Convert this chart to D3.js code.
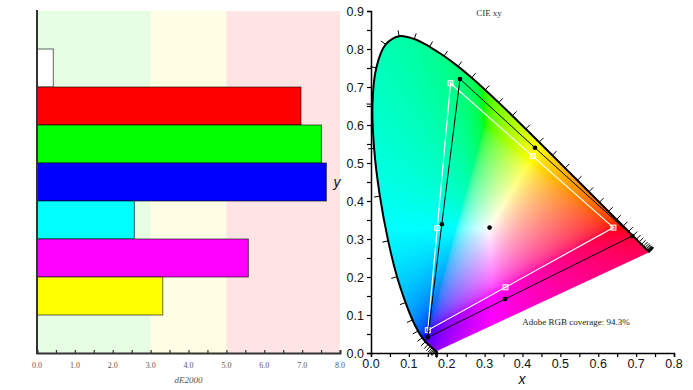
<!DOCTYPE html>
<html><head><meta charset="utf-8">
<script src="https://cdn.jsdelivr.net/npm/d3@7"></script>
<style>body{margin:0;background:#fff} svg{display:block}</style>
</head><body>
<svg id="c" width="693" height="390"></svg>
<script>
// ---------- Left chart data ----------
const barLabels = ["White", "Red", "Green", "Blue", "Cyan", "Magenta", "Yellow"];
const barValues = [0.43, 6.97, 7.51, 7.64, 2.57, 5.58, 3.32];
const barColors = ["#ffffff", "#ff0000", "#00ff00", "#0000ff", "#00ffff", "#ff00ff", "#ffff00"];
const zoneStarts = [0, 3, 5];
const zoneEnds = [3, 5, 8];
const zoneColors = ["#e4fde3", "#fffee4", "#ffe4e4"];
const deTicks = [0, 1, 2, 3, 4, 5, 6, 7, 8];
const deMinorTicks = [0, 0.5, 1, 1.5, 2, 2.5, 3, 3.5, 4, 4.5, 5, 5.5, 6, 6.5, 7, 7.5, 8];

// ---------- Right chart data ----------
const wavelengths = [380,385,390,395,400,405,410,415,420,425,430,435,440,445,450,455,460,465,470,475,480,485,490,495,500,505,510,515,520,525,530,535,540,545,550,555,560,565,570,575,580,585,590,595,600,605,610,615,620,625,630,635,640,645,650,655,660,665,670,675,680,685,690,695,700];
const locusX = [0.1741,0.1740,0.1738,0.1736,0.1733,0.1730,0.1726,0.1721,0.1714,0.1703,0.1689,0.1669,0.1644,0.1611,0.1566,0.1510,0.1440,0.1355,0.1241,0.1096,0.0913,0.0687,0.0454,0.0235,0.0082,0.0039,0.0139,0.0389,0.0743,0.1142,0.1547,0.1929,0.2296,0.2658,0.3016,0.3373,0.3731,0.4087,0.4441,0.4788,0.5125,0.5448,0.5752,0.6029,0.6270,0.6482,0.6658,0.6801,0.6915,0.7006,0.7079,0.7140,0.7190,0.7230,0.7260,0.7283,0.7300,0.7311,0.7320,0.7327,0.7334,0.7340,0.7344,0.7346,0.7347];
const locusY = [0.0050,0.0050,0.0049,0.0049,0.0048,0.0048,0.0048,0.0048,0.0051,0.0058,0.0069,0.0086,0.0109,0.0138,0.0177,0.0227,0.0297,0.0399,0.0578,0.0868,0.1327,0.2007,0.2950,0.4127,0.5384,0.6548,0.7502,0.8120,0.8338,0.8262,0.8059,0.7816,0.7543,0.7243,0.6923,0.6589,0.6245,0.5896,0.5547,0.5202,0.4866,0.4544,0.4242,0.3965,0.3725,0.3514,0.3340,0.3197,0.3083,0.2993,0.2920,0.2859,0.2809,0.2770,0.2740,0.2717,0.2700,0.2689,0.2680,0.2673,0.2666,0.2660,0.2656,0.2654,0.2653];
// measured primaries/secondaries: green, yellow, red, magenta, blue, cyan
const measuredX = [0.235, 0.433, 0.690, 0.354, 0.150, 0.187];
const measuredY = [0.721, 0.540, 0.308, 0.142, 0.041, 0.339];
const measuredWhite = [0.313, 0.330];
// Adobe RGB reference: green, yellow, red, magenta, blue, cyan
const refX = [0.210, 0.427, 0.640, 0.355, 0.150, 0.175];
const refY = [0.710, 0.518, 0.330, 0.173, 0.060, 0.329];
const xyTicks = [0, 0.1, 0.2, 0.3, 0.4, 0.5, 0.6, 0.7, 0.8];
const yTicks = [0, 0.1, 0.2, 0.3, 0.4, 0.5, 0.6, 0.7, 0.8, 0.9];
const chartTitle = "CIE xy";
const coverageText = "Adobe RGB coverage: 94.3%";

const svg = d3.select("#c");

// ================= LEFT: dE bars =================
const lx = d3.scaleLinear().domain([0, 8]).range([37, 340]);
const ly = d3.scaleBand().domain(barLabels).range([11, 353]).paddingInner(0).paddingOuter(1);
const left = svg.append("g");

left.selectAll("rect.zone").data(zoneStarts).join("rect")
  .attr("x", (d) => lx(d)).attr("y", 11)
  .attr("width", (d, i) => lx(zoneEnds[i]) - lx(d)).attr("height", 353 - 11)
  .attr("fill", (d, i) => zoneColors[i]);

left.selectAll("rect.bar").data(barLabels).join("rect")
  .attr("x", lx(0)).attr("y", (d) => ly(d))
  .attr("width", (d, i) => lx(barValues[i]) - lx(0)).attr("height", ly.bandwidth())
  .attr("fill", (d, i) => barColors[i])
  .attr("stroke", "rgba(0,0,0,0.6)").attr("stroke-width", 1);

const lAxis = d3.axisBottom(lx).tickValues(deMinorTicks).tickSize(-3).tickFormat("");
left.append("g").attr("transform", "translate(0,353)").call(lAxis)
  .call(g => { g.select(".domain").attr("stroke", "#333").attr("stroke-width", 2); g.selectAll("line").attr("stroke", "#333").attr("stroke-width", 1.2); });
left.selectAll("text.dl").data(deTicks).join("text")
  .attr("x", (d) => lx(d)).attr("y", 368).attr("text-anchor", "middle")
  .attr("font-family", "Liberation Serif, serif").attr("font-size", 8).attr("fill", "#555")
  .text((d) => d.toFixed(1));
left.append("text").attr("x", lx(4)).attr("y", 383).attr("text-anchor", "middle")
  .attr("font-family", "Liberation Serif, serif").attr("font-style", "italic").attr("font-size", 9).attr("fill", "#555")
  .text("dE2000");
left.append("line").attr("x1", lx(0)).attr("x2", lx(0)).attr("y1", 10).attr("y2", 354)
  .attr("stroke", "#333").attr("stroke-width", 2);

// ================= RIGHT: CIE xy =================
const sx = d3.scaleLinear().domain([0, 0.8]).range([371, 674]);
const sy = d3.scaleLinear().domain([0, 0.9]).range([353, 11]);
const W = 693, H = 390;

const locusPts = locusX.map((x, i) => [sx(x), sy(locusY[i])]);
const locusLine = d3.line().curve(d3.curveCatmullRom.alpha(0.5));
const locusPath = locusLine(locusPts);

// colour fill
const cv = document.createElement("canvas"); cv.width = W; cv.height = H;
const ctx = cv.getContext("2d");
const img = ctx.createImageData(W, H);
const gam = (v) => { v = Math.max(0, Math.min(1, v)); return v <= 0.0031308 ? 12.92 * v : 1.055 * Math.pow(v, 1 / 2.4) - 0.055; };
for (let py = Math.floor(sy(0.85)); py <= Math.ceil(sy(0)); py++) {
  for (let px = Math.floor(sx(0)) - 1; px <= Math.ceil(sx(0.74)); px++) {
    const cx = sx.invert(px + 0.5), cy = sy.invert(py + 0.5);
    if (cy <= 0.0005) continue;
    const X = cx / cy, Y = 1, Z = (1 - cx - cy) / cy;
    let r = 3.2406 * X - 1.5372 * Y - 0.4986 * Z;
    let g = -0.9689 * X + 1.8758 * Y + 0.0415 * Z;
    let b = 0.0557 * X - 0.2040 * Y + 1.0570 * Z;
    const m = Math.min(r, g, b);
    if (m < 0) { r -= m; g -= m; b -= m; }
    const M = Math.max(r, g, b) || 1;
    const k = (py * W + px) * 4;
    img.data[k] = Math.round(255 * gam(r / M));
    img.data[k + 1] = Math.round(255 * gam(g / M));
    img.data[k + 2] = Math.round(255 * gam(b / M));
    img.data[k + 3] = 255;
  }
}
ctx.putImageData(img, 0, 0);
ctx.globalCompositeOperation = "destination-in";
ctx.fill(new Path2D(locusPath + "Z"));

const right = svg.append("g");
right.append("image").attr("x", 0).attr("y", 0).attr("width", W).attr("height", H)
  .attr("href", cv.toDataURL());

// locus outline
right.append("path").attr("d", locusPath).attr("fill", "none")
  .attr("stroke", "#000").attr("stroke-width", 2).attr("stroke-linejoin", "round");

// wavelength ticks
const cW = [sx(measuredWhite[0]), sy(measuredWhite[1])];
let lastN = [0, 1];
const tickSegs = locusPts.map((p, i) => {
  const a = locusPts[Math.max(0, i - 1)], b = locusPts[Math.min(locusPts.length - 1, i + 1)];
  let tx = b[0] - a[0], ty = b[1] - a[1];
  const L = Math.hypot(tx, ty);
  let n;
  if (L > 0.8) {
    n = [-ty / L, tx / L];
    if (n[0] * (p[0] - cW[0]) + n[1] * (p[1] - cW[1]) < 0) n = [-n[0], -n[1]];
    lastN = n;
  } else n = lastN;
  return [p, [p[0] + n[0] * 6, p[1] + n[1] * 6]];
});
right.selectAll("line.wl").data(tickSegs).join("line")
  .attr("x1", (d) => d[0][0]).attr("y1", (d) => d[0][1])
  .attr("x2", (d) => d[1][0]).attr("y2", (d) => d[1][1])
  .attr("stroke", "#000").attr("stroke-width", 1);

// Adobe RGB reference (white)
const refPts = refX.map((x, i) => [sx(x), sy(refY[i])]);
right.append("path").attr("d", d3.line()(refPts) + "Z").attr("fill", "none")
  .attr("stroke", "#fff").attr("stroke-width", 1.2);
right.selectAll("rect.ref").data(refPts).join("rect")
  .attr("x", (d) => d[0] - 2.5).attr("y", (d) => d[1] - 2.5).attr("width", 5).attr("height", 5)
  .attr("fill", "rgba(255,255,255,0.3)").attr("stroke", "#fff").attr("stroke-width", 1);

// measured (black)
const mPts = measuredX.map((x, i) => [sx(x), sy(measuredY[i])]);
right.append("path").attr("d", d3.line()(mPts) + "Z").attr("fill", "none")
  .attr("stroke", "#000").attr("stroke-width", 1);
right.selectAll("circle.m").data(mPts.concat([cW])).join("circle")
  .attr("cx", (d) => d[0]).attr("cy", (d) => d[1]).attr("r", 2.3).attr("fill", "#000");

// axes
const xAxisMinor = d3.axisBottom(sx).tickValues(d3.range(0, 0.801, 0.05)).tickSize(4).tickFormat("");
right.append("g").attr("transform", "translate(0,353)").call(xAxisMinor)
  .call(g => { g.select(".domain").attr("stroke", "#000").attr("stroke-width", 1.5); g.selectAll("line").attr("stroke", "#000").attr("stroke-width", 1.2); });
const yAxisMinor = d3.axisLeft(sy).tickValues(d3.range(0, 0.901, 0.05)).tickSize(4).tickFormat("");
right.append("g").attr("transform", "translate(371,0)").call(yAxisMinor)
  .call(g => { g.select(".domain").attr("stroke", "#000").attr("stroke-width", 1.5); g.selectAll("line").attr("stroke", "#000").attr("stroke-width", 1.2); });

right.selectAll("text.xt").data(xyTicks).join("text")
  .attr("x", (d) => sx(d)).attr("y", 368).attr("text-anchor", "middle")
  .attr("font-family", "Liberation Sans, Arial, sans-serif").attr("font-size", 12.5).attr("fill", "#111")
  .text((d) => d.toFixed(1));
right.selectAll("text.yt").data(yTicks).join("text")
  .attr("x", 364).attr("y", (d) => sy(d) + 4.5).attr("text-anchor", "end")
  .attr("font-family", "Liberation Sans, Arial, sans-serif").attr("font-size", 12.5).attr("fill", "#111")
  .text((d) => d.toFixed(1));
right.append("text").attr("x", 522).attr("y", 384).attr("text-anchor", "middle")
  .attr("font-family", "Liberation Sans, Arial, sans-serif").attr("font-style", "italic").attr("font-size", 14).attr("fill", "#111")
  .text("x");
right.append("text").attr("x", 337).attr("y", 187).attr("text-anchor", "middle")
  .attr("font-family", "Liberation Sans, Arial, sans-serif").attr("font-style", "italic").attr("font-size", 14).attr("fill", "#111")
  .text("y");
right.append("text").attr("x", 489).attr("y", 16).attr("text-anchor", "middle")
  .attr("font-family", "Liberation Serif, serif").attr("font-size", 9).attr("fill", "#333")
  .text(chartTitle);
right.append("text").attr("x", 576).attr("y", 325).attr("text-anchor", "middle")
  .attr("font-family", "Liberation Serif, serif").attr("font-size", 9).attr("fill", "#222")
  .text(coverageText);
</script>
</body></html>
